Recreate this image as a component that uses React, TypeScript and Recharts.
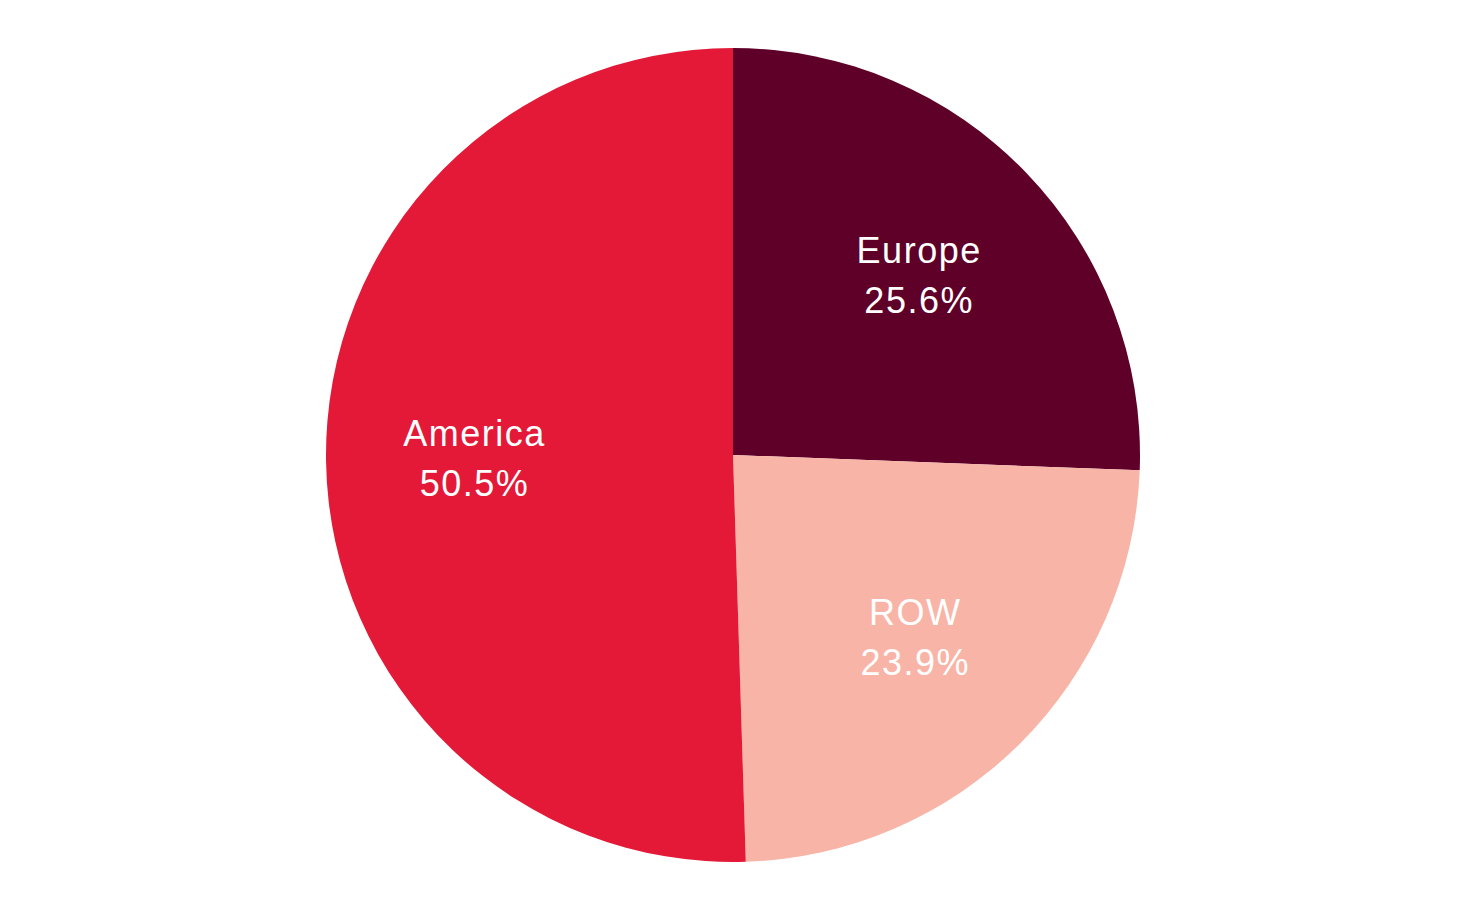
import { Cell, Pie, PieChart } from "recharts";

const regions = ["Europe", "ROW", "America"];
const shares = [25.6, 23.9, 50.5];
const colors = ["#5e0028", "#f8b4a6", "#e31937"];

const data = regions.map((name, i) => ({ name, value: shares[i] }));

const RADIAN = Math.PI / 180;

function renderLabel(props: any) {
  const { cx, cy, midAngle, outerRadius, name, value } = props;
  const r = outerRadius * 0.635;
  const x = cx + r * Math.cos(-midAngle * RADIAN);
  const y = cy + r * Math.sin(-midAngle * RADIAN);
  return (
    <text
      x={x}
      y={y}
      fill="#ffffff"
      textAnchor="middle"
      fontFamily="'Liberation Sans', Arial, sans-serif"
      fontSize={36}
      letterSpacing={1.5}
    >
      <tspan x={x} dy={-13}>{name}</tspan>
      <tspan x={x} dy={50}>{`${value.toFixed(1)}%`}</tspan>
    </text>
  );
}

export default function App() {
  return (
    <div style={{ width: 1449, height: 894, background: "#ffffff" }}>
      <PieChart width={1449} height={894}>
        <Pie
          data={data}
          dataKey="value"
          nameKey="name"
          cx={720}
          cy={442}
          outerRadius={407}
          startAngle={90}
          endAngle={-270}
          stroke="none"
          label={renderLabel}
          labelLine={false}
          isAnimationActive={false}
        >
          {data.map((d, i) => (
            <Cell key={d.name} fill={colors[i]} />
          ))}
        </Pie>
      </PieChart>
    </div>
  );
}
